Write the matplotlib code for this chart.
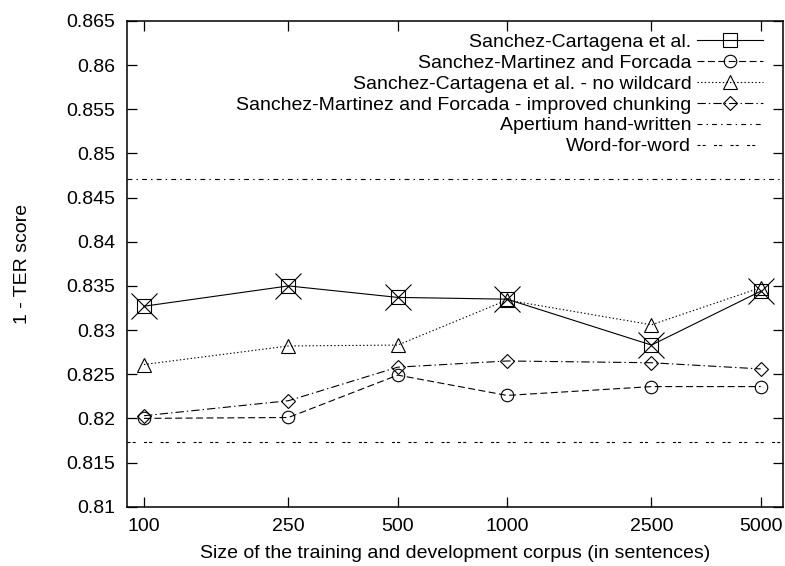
import matplotlib
matplotlib.use("Agg")
import matplotlib.pyplot as plt

plt.rcParams['font.family'] = ['Liberation Sans', 'DejaVu Sans']
plt.rcParams['lines.scale_dashes'] = False

sizes = [100, 250, 500, 1000, 2500, 5000]
tick_labels = ['100', '250', '500', '1000', '2500', '5000']

sanchez_cartagena = [0.8327, 0.8350, 0.8337, 0.8335, 0.8283, 0.8344]
sanchez_martinez = [0.8200, 0.8201, 0.8249, 0.8226, 0.8236, 0.8236]
sc_no_wildcard = [0.8261, 0.8282, 0.8283, 0.8334, 0.8306, 0.8348]
sm_improved_chunking = [0.8203, 0.8220, 0.8258, 0.8265, 0.8263, 0.8256]
apertium_handwritten = 0.8471
word_for_word = 0.8173

labels = ['Sanchez-Cartagena et al.',
          'Sanchez-Martinez and Forcada',
          'Sanchez-Cartagena et al. - no wildcard',
          'Sanchez-Martinez and Forcada - improved chunking',
          'Apertium hand-written',
          'Word-for-word']

fig = plt.figure(figsize=(7.85, 5.66), dpi=100)
ax = fig.add_axes([0.1614, 0.1048, 0.8361, 0.8581])
ax.set_xscale('log')
ax.set_xlim(89.6, 5760)
ax.set_ylim(0.81, 0.865)

lw = 0.8
k = 'black'
ax.plot(sizes, sanchez_cartagena, color=k, lw=lw, ls='-', marker='s', ms=10.5,
        mfc='none', mec=k, mew=lw, label=labels[0])
ax.plot(sizes, sanchez_cartagena, ls='none', marker='x', ms=19, mec=k, mew=lw)
ax.plot(sizes, sanchez_martinez, color=k, lw=lw, ls=(0, (5, 2.5)), marker='o', ms=9,
        mfc='none', mec=k, mew=lw, label=labels[1])
ax.plot(sizes, sc_no_wildcard, color=k, lw=lw, ls=(0, (1, 1.6)), marker='^', ms=10,
        mfc='none', mec=k, mew=lw, label=labels[2])
ax.plot(sizes, sm_improved_chunking, color=k, lw=lw, ls=(0, (6, 2.2, 1, 2.2)), marker='D', ms=7,
        mfc='none', mec=k, mew=lw, label=labels[3])
ax.axhline(apertium_handwritten, color=k, lw=lw, ls=(0, (3.5, 3, 1, 3)), label=labels[4])
ax.axhline(word_for_word, color=k, lw=lw, ls=(0, (2.2, 1.5, 2.2, 6)), label=labels[5])

ax.set_xticks(sizes)
ax.set_xticklabels(tick_labels)
ax.xaxis.set_minor_locator(matplotlib.ticker.NullLocator())
ax.set_yticks([0.81 + 0.005 * i for i in range(12)])
ax.set_yticklabels(['0.81', '0.815', '0.82', '0.825', '0.83', '0.835', '0.84',
                    '0.845', '0.85', '0.855', '0.86', '0.865'])
ax.tick_params(direction='in', length=7, width=0.9, top=True, right=True,
               labelsize=14, pad=8.5)
for s in ax.spines.values():
    s.set_linewidth(1.1)

ax.set_xlabel('Size of the training and development corpus (in sentences)', fontsize=14, labelpad=7)
ax.set_ylabel('1 - TER score', fontsize=14, labelpad=25)

leg = ax.legend(loc='upper right', bbox_to_anchor=(0.99, 1.003), frameon=False,
                markerfirst=False, numpoints=1, fontsize=14, handlelength=3.4,
                handletextpad=0.28, labelspacing=0.17, borderpad=0.2)

fig.savefig('out.png', dpi=100)
